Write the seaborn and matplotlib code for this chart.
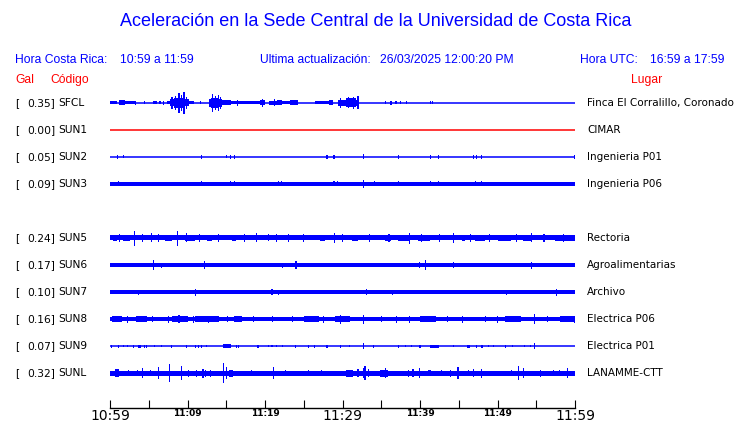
import matplotlib
matplotlib.use("Agg")
import matplotlib.pyplot as plt
import pandas as pd
import seaborn as sns

W, H = 740, 423
ROW_PX = 27.0
BLUE = "#0000ff"
RED = "#ff0000"

# station table
CODES = ["SFCL", "SUN1", "SUN2", "SUN3", "SUN5", "SUN6", "SUN7", "SUN8", "SUN9", "SUNL"]
ROWS = [0, 1, 2, 3, 5, 6, 7, 8, 9, 10]
PEAK_GAL = [0.35, 0.00, 0.05, 0.09, 0.24, 0.17, 0.10, 0.16, 0.07, 0.32]
PLACES = ["Finca El Corralillo, Coronado", "CIMAR", "Ingenieria P01", "Ingenieria P06",
          "Rectoria", "Agroalimentarias", "Archivo", "Electrica P06", "Electrica P01",
          "LANAMME-CTT"]
TRACE_COLORS = [BLUE, RED, BLUE, BLUE, BLUE, BLUE, BLUE, BLUE, BLUE, BLUE]
# half width of the background noise band, in pixels
BASE_HALF = [0.5, 0.6, 0.6, 1.6, 2.5, 1.7, 1.7, 2.3, 0.6, 2.5]

# bursts: (start minute, end minute, half amplitude px)
BURSTS = {
    "SFCL": [(0, 0.86, 1.5), (1.1, 1.9, 2.5), (1.9, 3.4, 1.5), (5.6, 6.0, 1.5), (7.3, 7.7, 1.5),
             (7.7, 10.2, 3.5), (8.3, 9.6, 5), (10.2, 10.9, 1.5), (12.8, 14.5, 4),
             (13.0, 14.0, 5), (14.5, 15.6, 2.5), (15.6, 18.3, 1.5), (18.3, 19.3, 1.5),
             (19.3, 20.0, 2.5), (20.5, 21.5, 2), (21.5, 22.2, 2.5), (22.2, 23.2, 1.5),
             (23.2, 24.3, 2.5), (26.4, 28.3, 1.5), (28.3, 28.8, 2.5), (29.4, 32.0, 3),
             (30.5, 31.8, 4.5), (36.1, 36.4, 2)],
    "SUN3": [(57.0, 60.0, 2.1)],
    "SUN5": [(0.43, 0.86, 3), (1.72, 2.58, 3.1), (7.1, 7.96, 3.1), (9.68, 10.97, 3.2),
             (12.5, 13.1, 3.1), (15.7, 16.3, 3.1), (27.1, 27.7, 3.1), (31.2, 32.0, 3.2),
             (35.5, 36.3, 3.1), (37.2, 38.6, 3.4), (39.8, 41.3, 3.2), (45.4, 45.8, 3.1),
             (47.1, 48.4, 3.2), (50.1, 51.8, 3.1), (53.3, 54.4, 3.4), (57.4, 60.0, 3.2)],
    "SUN8": [(0.3, 1.5, 2.8), (3.3, 4.8, 2.8), (8.0, 10.0, 3), (11.0, 14.0, 2.8),
             (16.0, 17.0, 2.8), (25.0, 27.0, 2.8), (29.0, 31.0, 3), (40.0, 42.0, 2.8),
             (51.0, 53.0, 2.8), (58.0, 60.0, 2.8)],
    "SUN9": [(3.6, 4.0, 1.5), (14.6, 15.6, 1.8), (41.3, 42.4, 1.5), (46.0, 46.4, 1.5)],
    "SUNL": [(0.65, 1.1, 4), (15.4, 15.9, 3.5), (30.5, 31.4, 3.5), (34.8, 35.9, 3.5),
             (41.0, 41.4, 3)],
}

# single spikes: (minute, half amplitude px)
SPIKES = {
    "SFCL": [(3.3, 2), (4.5, 1.5), (6.45, 1.5), (6.9, 2), (8.0, 6), (8.5, 7), (8.9, 10),
             (9.2, 8), (9.55, 11), (9.9, 6), (11.7, 1.5), (13.2, 9), (13.6, 7), (14.0, 8),
             (14.3, 6), (16.5, 3), (19.7, 4), (21.2, 3.5), (29.8, 5), (30.8, 5.5), (31.4, 6),
             (32.0, 6.5), (35.5, 1.5), (36.9, 1.5), (37.5, 1.5), (38.3, 1.5), (41.3, 1.5),
             (41.6, 1.5)],
    "SUN2": [(0.95, 2), (1.72, 1.5), (11.8, 2), (15.05, 1.5), (15.6, 2), (16.1, 2), (28.0, 2),
             (28.9, 2), (32.7, 2.5), (37.2, 2), (41.4, 2), (42.4, 2), (46.9, 2), (47.3, 2),
             (47.9, 2), (59.9, 2)],
    "SUN3": [(1.08, 2.5), (11.8, 2.5), (15.5, 2.5), (16.1, 2.5), (21.7, 2.5), (22.1, 2.5),
             (25.7, 2), (28.9, 2.5), (29.3, 2.5), (32.7, 4), (34.1, 2.5), (37.2, 2.5),
             (38.1, 2), (41.3, 2.5), (42.4, 2.5), (47.2, 2.5), (47.9, 2.5)],
    "SUN5": [(1.2, 4), (3.14, 7.5), (4.2, 3.8), (5.38, 4.5), (6.3, 4), (8.73, 7.5), (9.9, 4.5),
             (11.5, 4), (14.0, 3.8), (17.4, 4), (18.9, 4.5), (20.4, 3.5), (21.5, 4), (23.0, 3.6),
             (25.0, 3.6), (29.0, 5), (30.0, 4), (33.5, 3.8), (36.0, 4), (38.6, 5.5), (40.2, 4),
             (42.5, 3.6), (44.3, 5), (46.5, 3.8), (49.0, 3.8), (52.4, 4), (54.4, 4.5),
             (56.0, 3.8), (58.5, 4)],
    "SUN6": [(5.6, 5), (6.7, 2.5), (12.2, 4), (22.2, 2.5), (24.0, 4), (39.9, 3), (40.7, 5),
             (44.3, 3), (54.4, 3.5)],
    "SUN7": [(3.7, 2.5), (11.0, 3.5), (20.9, 3), (21.7, 2.5), (33.1, 3), (36.4, 2.5),
             (51.2, 2.5), (57.6, 3.5)],
    "SUN8": [(2.3, 3.5), (5.5, 3.2), (7.5, 3.5), (8.9, 4), (10.8, 3.5), (12.7, 3.5), (15.2, 3.2),
             (18.5, 3.2), (21.0, 3.2), (23.5, 3.2), (27.6, 3.5), (29.7, 4.5), (32.7, 4.5),
             (35.0, 3.2), (37.0, 3.5), (38.7, 3.5), (43.5, 3.2), (45.5, 3.5), (48.5, 3.2),
             (50.0, 3.5), (54.8, 5), (56.5, 3.2), (59.9, 3.5)],
    "SUN9": [(0.2, 1.5), (1.1, 1.5), (1.7, 1.2), (2.2, 1.2), (3.0, 1.5), (4.4, 1.5),
             (4.7, 1.5), (5.8, 1.2), (6.7, 1.2), (7.9, 1.5), (9.9, 1.5), (11.0, 1.5),
             (11.4, 1.5), (11.8, 1.5), (12.5, 1.2), (16.3, 1.5), (16.6, 1.5), (19.1, 1.5),
             (20.4, 1.2), (20.9, 1.2), (21.5, 1.2), (22.2, 1.2), (23.9, 1.5), (25.6, 1.5),
             (26.4, 1.5), (28.0, 1.5), (29.8, 1.5), (30.9, 1.2), (32.7, 3), (34.0, 1.5),
             (37.2, 1.5), (38.1, 1.2), (38.9, 1.2), (40.0, 1.5), (44.3, 1.2), (47.3, 1.5),
             (48.0, 1.5), (48.8, 1.2), (49.5, 1.2), (51.0, 1.5), (51.9, 1.2), (53.5, 1.2),
             (54.2, 1.2), (54.8, 3)],
    "SUNL": [(2.4, 3), (3.6, 3), (4.2, 5), (5.2, 3), (6.3, 6), (7.7, 9), (9.2, 7), (10.1, 3.5),
             (11.2, 3.5), (12.0, 4.5), (12.3, 3.5), (13.0, 3.5), (14.6, 10), (15.05, 6),
             (18.3, 3), (21.1, 6), (22.6, 3), (25.6, 3), (27.3, 3), (32.0, 4), (32.7, 5),
             (32.9, 7), (33.3, 4), (35.5, 5), (38.5, 3.5), (39.1, 4), (39.9, 5), (42.8, 3),
             (43.9, 3.5), (44.9, 6), (46.2, 3), (46.9, 4), (47.9, 4.5), (51.8, 3), (52.7, 7),
             (53.3, 5), (55.5, 3.5), (57.2, 3), (58.0, 3), (59.0, 5)],
}

SPIKE_WIDTH = 0.14  # minutes, about one pixel

TICK_MINUTES = list(range(0, 61, 5))
LABEL_MINUTES = [0, 10, 20, 30, 40, 50, 60]
LABEL_TEXT = ["10:59", "11:09", "11:19", "11:29", "11:39", "11:49", "11:59"]
BIG_LABELS = ["10:59", "11:29", "11:59"]

TITLE = "Aceleración en la Sede Central de la Universidad de Costa Rica"


def fx(px):
    return px / W


def fy(py):
    return 1 - py / H


sns.set_theme(style="white")
plt.rcParams["font.family"] = ["DejaVu Sans"]

fig = plt.figure(figsize=(W / 100, H / 100), dpi=100)
fig.patch.set_facecolor("white")

# trace panel: x in minutes, y in row slots (27 px each)
top_px, bot_px = 89.5, 386.5
ax = fig.add_axes([fx(110), fy(bot_px), fx(575) - fx(110), (bot_px - top_px) / H])
ax.set_xlim(0, 60)
ax.set_ylim(10.5, -0.5)
ax.axis("off")

for code, row, base, color in zip(CODES, ROWS, BASE_HALF, TRACE_COLORS):
    if base <= 0.7:
        line = pd.DataFrame({"minute": [0, 60], "y": [row, row]})
        sns.lineplot(data=line, x="minute", y="y", color=color, linewidth=1.1, ax=ax,
                     legend=False)
    else:
        h = base / ROW_PX
        ax.bar(0, 2 * h, bottom=row - h, width=60, align="edge", color=color, linewidth=0)
    for s, e, half in BURSTS.get(code, []):
        h = half / ROW_PX
        ax.bar(s, 2 * h, bottom=row - h, width=e - s, align="edge", color=color, linewidth=0)
    for m, half in SPIKES.get(code, []):
        h = half / ROW_PX
        ax.bar(m, 2 * h, bottom=row - h, width=SPIKE_WIDTH, align="center", color=color,
               linewidth=0)

# time axis
tax = fig.add_axes([fx(110), fy(408), fx(575) - fx(110), 0.001])
tax.set_xlim(0, 60)
tax.set_yticks([])
sns.despine(ax=tax, left=True, right=True, top=True)
tax.spines["bottom"].set_color("black")
tax.spines["bottom"].set_linewidth(1.0)
tax.set_xticks(TICK_MINUTES)
tax.set_xticklabels([""] * len(TICK_MINUTES))
tax.tick_params(axis="x", direction="in", length=6, width=0.8, color="black", bottom=True)
for m, lab in zip(LABEL_MINUTES, LABEL_TEXT):
    big = lab in BIG_LABELS
    tax.text(m, -1.5 if big else -2.5, lab, transform=tax.get_xaxis_transform(),
             ha="center", va="top", fontsize=10 if big else 6.5, color="black",
             fontweight="normal" if big else "bold")

# texts
fig.text(fx(376), fy(22), TITLE, ha="center", va="center", fontsize=13, color=BLUE,
         family="Liberation Sans")
hdr = dict(fontsize=8.7, color=BLUE, family="Liberation Sans", va="center", ha="left")
fig.text(fx(15), fy(60), "Hora Costa Rica:", **hdr)
fig.text(fx(120), fy(60), "10:59 a 11:59", **hdr)
fig.text(fx(260), fy(60), "Ultima actualización:", **hdr)
fig.text(fx(380), fy(60), "26/03/2025 12:00:20 PM", **hdr)
fig.text(fx(580), fy(60), "Hora UTC:", **hdr)
fig.text(fx(650), fy(60), "16:59 a 17:59", **hdr)

red = dict(fontsize=8.7, color=RED, family="Liberation Sans", va="center")
fig.text(fx(15), fy(80), "Gal", ha="left", **red)
fig.text(fx(50), fy(80), "Código", ha="left", **red)
fig.text(fx(662), fy(80), "Lugar", ha="right", **red)

for code, row, gal, place in zip(CODES, ROWS, PEAK_GAL, PLACES):
    ypx = 103 + row * ROW_PX
    fig.text(fx(15), fy(ypx), "[", ha="left", va="center", fontsize=7.7, color="black")
    fig.text(fx(55), fy(ypx), f"{gal:.2f}]", ha="right", va="center", fontsize=7.7,
             color="black")
    fig.text(fx(58), fy(ypx), code, ha="left", va="center", fontsize=7.7, color="black")
    fig.text(fx(587), fy(ypx), place, ha="left", va="center", fontsize=7.5, color="black")

fig.savefig("out.png", dpi=100, facecolor="white")
